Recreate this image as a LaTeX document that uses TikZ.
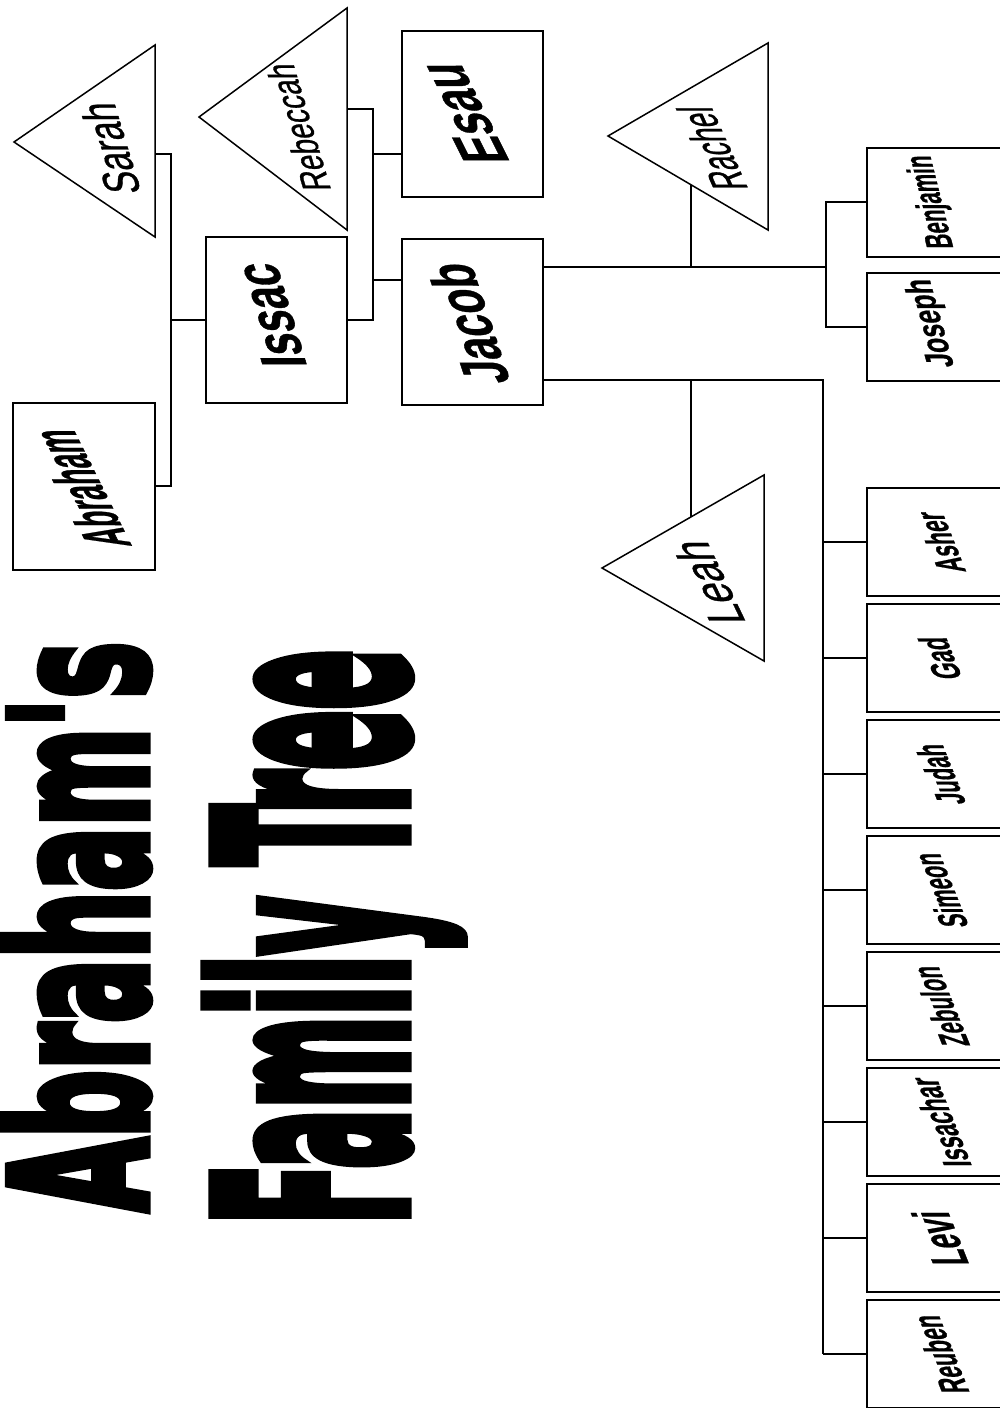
\documentclass[tikz,border=0pt]{standalone}
\usepackage{fontspec}
\usetikzlibrary{calc}
\newfontfamily\namefont[FakeBold=0.8]{Liberation Sans}
\newfontfamily\titlefont[FakeBold=5]{DejaVu Sans}
\newcommand\nm[3]{\fontsize{#1}{#1}\selectfont\resizebox{#2pt}{\height}{#3}}

\begin{document}
\begin{tikzpicture}[x=1pt, y=-1pt,
    box/.style={draw, line width=2pt, inner sep=0, minimum width=141pt, minimum height=166pt},
    kid/.style={draw, line width=2pt, inner sep=0, minimum width=142pt, minimum height=108pt},
    wife/.style={draw, line width=1.5pt, line join=miter},
    link/.style={line width=2pt},
    tag/.style={rotate=90, yslant=#1, inner sep=0, font=\namefont},
    tag/.default=.4,
    heavy/.style={font=\namefont\bfseries}]
  \useasboundingbox (0,0) rectangle (1000,1408);
  \fill[white] (0,0) rectangle (1000,1408);

  %title
  \node[rotate=90, anchor=base west, inner sep=0, font=\titlefont\bfseries] (title) at (146,1212) {\resizebox{570pt}{142pt}{Abraham's}};
  \node[rotate=90, anchor=base west, inner sep=0, font=\titlefont\bfseries] (subtitle) at (405,1225) {\resizebox{575pt}{198pt}{Family Tree}};

  %Sarah and Abraham
  \draw[wife] (14,142) coordinate (sarah) -- (155,45) coordinate (sarah top) -- (155,237) coordinate (sarah bot) -- cycle;
  \node[tag=.3] (sarah name) at (110,148) {\nm{50}{91}{Sarah}};
  \node[box, minimum width=142pt, minimum height=167pt] (abraham) at (84,486) {};
  \node[tag=.5, heavy] (abraham name) at (80,488) {\nm{64}{117}{Abraham}};
  \node[box] (issac) at (276,320) {};
  \node[tag=.3, heavy] (issac name) at (270,315) {\nm{64}{104}{Issac}};
  \coordinate (sarah link) at ($(sarah top)!.57!(sarah bot)$);
  \coordinate (abraham bus) at (171,320);
  \draw[link] (sarah link) -| (abraham bus) |- (abraham.east);
  \draw[link] (abraham bus) -- (issac.west);

  %Rebeccah
  \draw[wife] (199,117) coordinate (rebeccah) -- (347,8) coordinate (rebeccah top) -- (347,230) coordinate (rebeccah bot) -- cycle;
  \node[tag=.3] (rebeccah name) at (298,127) {\nm{40}{127}{Rebeccah}};
  \coordinate (rebeccah link) at ($(rebeccah top)!.455!(rebeccah bot)$);
  \coordinate (issac bus) at (373,320);
  \draw[link] (rebeccah link) -| (issac bus) -- (issac.east);

  %Esau and Jacob
  \node[box] (esau) at (472,114) {};
  \node[tag=.5, heavy] (esau name) at (463,113) {\nm{66}{100}{Esau}};
  \node[box] (jacob) at (472,322) {};
  \node[tag=.33, heavy] (jacob name) at (468,323) {\nm{64}{120}{Jacob}};
  \draw[link] ([yshift=-40pt]esau.west) -| (issac bus);
  \draw[link] ([yshift=42pt]jacob.west) -| (issac bus);

  %Rachel
  \draw[wife] (608,136) coordinate (rachel) -- (768,43) coordinate (rachel top) -- (768,230) coordinate (rachel bot) -- cycle;
  \node[tag=.45] (rachel name) at (712,148) {\nm{50}{83}{Rachel}};
  \coordinate (jacob high) at ([yshift=55pt]jacob.east);
  \coordinate (rachel bus) at (826,267);
  \draw[link] (jacob high) -- (rachel bus);
  \coordinate (rachel foot) at ($(rachel)!.52!(rachel bot)$);
  \draw[link] (rachel foot) -- (rachel foot |- rachel bus);
  \node[kid, minimum height=109pt] (benjamin) at (938,202) {};
  \node[tag=.25, heavy] (benjamin name) at (932,202) {\nm{38}{93}{Benjamin}};
  \node[kid] (joseph) at (938,327) {};
  \node[tag=.28, heavy] (joseph name) at (932,323) {\nm{38}{88}{Joseph}};
  \draw[link] (benjamin.west) -| (rachel bus) |- (joseph.west);

  %Leah
  \draw[wife] (602,568) coordinate (leah) -- (764,475) coordinate (leah top) -- (764,661) coordinate (leah bot) -- cycle;
  \node[tag=.48] (leah name) at (708,582) {\nm{52}{83}{Leah}};
  \foreach \who/\size/\len [count=\i] in {Asher/40/60, Gad/40/42, Judah/40/60, Simeon/40/74, Zebulon/40/80, Issachar/40/89, Levi/52/54, Reuben/40/78}{
    \node[kid] (son\i) at (938,426+116*\i) {};
    \node[tag, heavy] (son\i name) at (940,426+116*\i) {\nm{\size}{\len}{\who}};
  }
  \coordinate (jacob low) at ([yshift=-58pt]jacob.east);
  \coordinate (leah bus) at (823,1354);
  \draw[link] (jacob low) -| (leah bus);
  \foreach \i in {1,...,8}
    \draw[link] (son\i.west) -- (son\i.west -| leah bus);
  \coordinate (leah foot) at ($(leah)!.549!(leah top)$);
  \draw[link] (leah foot) -- (leah foot |- jacob low);
\end{tikzpicture}
\end{document}
